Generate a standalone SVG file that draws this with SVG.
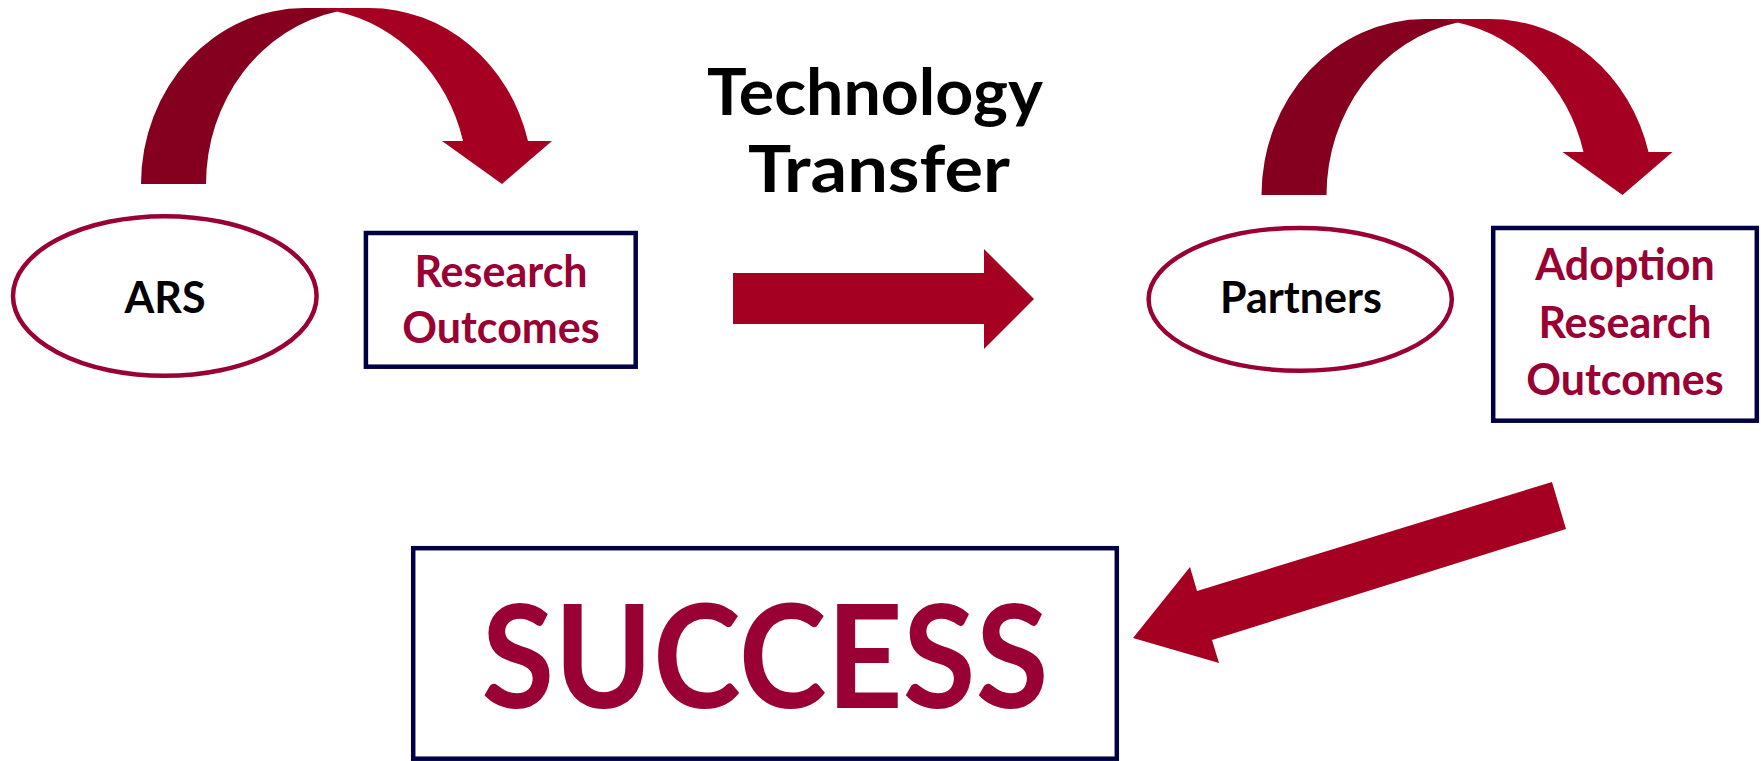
<svg xmlns="http://www.w3.org/2000/svg" width="1761" height="761" viewBox="0 0 1761 761">
<style>
.ell{fill:#fff;stroke:#990033;stroke-width:4.5}
.box{fill:#fff;stroke:#000044;stroke-width:4.5}
.lbl{font-family:Lato,"Open Sans",sans-serif;font-weight:bold;font-size:43px;text-anchor:middle}
.blk{fill:#000}
.red{fill:#990033}
.tt{font-family:Lato,"Open Sans",sans-serif;font-weight:bold;font-size:65px;fill:#000}
.arw{fill:#A50021}
.back{fill:#85001F}
</style>
<defs>
<g id="arch">
<path class="back" d="M141,184 A163.5,176 0 0 1 304.5,8 L337,8 L337,11.5 A163.5,176 0 0 0 206,184 Z"/>
<path class="arw" d="M320,8 L369.5,8 A163.5,176 0 0 1 528,141 L463,141 A163.5,176 0 0 0 337,11.5 Z"/>
<polygon class="arw" points="442,141 552,141 502,184"/>
</g>
</defs>
<rect width="1761" height="761" fill="#fff"/>
<g id="connectors">
<use href="#arch"/>
<use href="#arch" transform="translate(1120.5,11)"/>
<polygon class="arw" points="733,273 984,273 984,249 1034,299 984,349 984,324 733,324"/>
<polygon class="arw" points="1552,482 1566,529 1212,640 1219,663 1133,638 1190,567 1197,591"/>
</g>
<g id="title">
<text class="tt" x="707" y="115" textLength="336" lengthAdjust="spacingAndGlyphs">Technology</text>
<text class="tt" x="748" y="192" textLength="262" lengthAdjust="spacingAndGlyphs">Transfer</text>
</g>
<g id="ars">
<ellipse class="ell" cx="164.8" cy="296" rx="151.8" ry="79.8"/>
<text class="lbl blk" x="165" y="313">ARS</text>
</g>
<g id="research-outcomes">
<rect class="box" x="365.9" y="233" width="269.8" height="133.7"/>
<text class="lbl red" x="501" y="287">Research</text>
<text class="lbl red" x="501" y="343">Outcomes</text>
</g>
<g id="partners">
<ellipse class="ell" cx="1300.2" cy="299.3" rx="151.6" ry="71.4"/>
<text class="lbl blk" x="1301" y="313">Partners</text>
</g>
<g id="adoption">
<rect class="box" x="1493.2" y="228" width="263.6" height="192.7"/>
<text class="lbl red" x="1625" y="280">Adoption</text>
<text class="lbl red" x="1625" y="338">Research</text>
<text class="lbl red" x="1625" y="395">Outcomes</text>
</g>
<g id="success">
<rect class="box" x="413.2" y="548.2" width="703.6" height="210.5"/>
<text class="lbl red" x="765" y="708" style="font-size:144px" textLength="567" lengthAdjust="spacingAndGlyphs">SUCCESS</text>
</g>
</svg>
